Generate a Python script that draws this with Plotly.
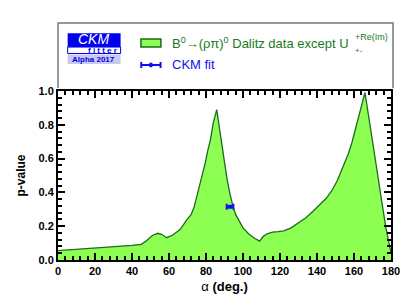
import plotly.graph_objects as go

alpha = [0, 10, 20, 30, 40, 45, 48, 51, 54, 56, 58.7, 62, 66, 69.6, 72, 73.5, 75, 77, 79.5, 81, 82.4,
         83.9, 85.8, 87, 88.5, 90, 91.5, 93, 94.5, 96, 98, 100, 103, 106, 109, 111, 113, 116, 119,
         122, 126, 130, 134, 138, 142, 145, 148, 151, 154, 157, 159, 161.5, 163.5, 165.9, 167.5,
         169.6, 172.3, 175, 177.3, 179.5, 180]
pvalue = [0.055, 0.062, 0.069, 0.077, 0.087, 0.093, 0.115, 0.145, 0.158, 0.152, 0.132, 0.148, 0.18,
          0.237, 0.27, 0.31, 0.375, 0.45, 0.57, 0.65, 0.71, 0.81, 0.89, 0.80, 0.68, 0.56, 0.47,
          0.39, 0.32, 0.27, 0.225, 0.19, 0.155, 0.13, 0.112, 0.14, 0.155, 0.165, 0.168, 0.172,
          0.19, 0.22, 0.25, 0.29, 0.33, 0.365, 0.41, 0.47, 0.55, 0.63, 0.70, 0.80, 0.89, 0.99,
          0.88, 0.74, 0.54, 0.345, 0.187, 0.07, 0.04]

fit_alpha = [93.0]
fit_err = [1.8]
fit_p = [0.315]

xticks = [0, 20, 40, 60, 80, 100, 120, 140, 160, 180]
yticks = [0.0, 0.2, 0.4, 0.6, 0.8, 1.0]
ytick_labels = ["0.0", "0.2", "0.4", "0.6", "0.8", "1.0"]

FONT = "Liberation Sans"
GREEN_FILL = "#8cff52"
GREEN_LINE = "#1d6b1d"
BLUE = "#1010ee"

fig = go.Figure()
fig.add_trace(go.Scatter(x=alpha, y=pvalue, mode="lines", fill="tozeroy",
                         fillcolor=GREEN_FILL, line=dict(color=GREEN_LINE, width=1.3),
                         showlegend=False, hoverinfo="skip"))
fig.add_trace(go.Scatter(x=fit_alpha, y=fit_p, mode="markers",
                         marker=dict(color=BLUE, size=4, symbol="square"),
                         error_x=dict(type="data", array=fit_err, color=BLUE, thickness=2, width=3),
                         showlegend=False))

axis_common = dict(showline=True, linecolor="black", linewidth=2, mirror="allticks",
                   ticks="inside", ticklen=7, tickwidth=1.5, tickcolor="black",
                   showgrid=False, zeroline=False, automargin=False,
                   tickfont=dict(family=FONT, size=11, color="black", weight="bold"))

fig.update_xaxes(range=[0, 180], tickvals=xticks,
                 minor=dict(ticks="inside", ticklen=4, tickwidth=1.5, dtick=4, tick0=0, tickcolor="black"),
                 title=dict(text="α <b>(deg.)</b>", font=dict(family=FONT, size=13, color="black"), standoff=6),
                 **axis_common)
fig.update_yaxes(range=[0, 1], tickvals=yticks, ticktext=ytick_labels,
                 minor=dict(ticks="inside", ticklen=4, tickwidth=1.5, dtick=0.04, tick0=0, tickcolor="black"),
                 title=dict(text="<b>p-value</b>", font=dict(family=FONT, size=12, color="black"), standoff=10),
                 **axis_common)

shapes = []
# legend frame (left, top, right)
shapes.append(dict(type="path", xref="paper", yref="paper",
                   path="M 0,1.018 L 0,1.402 L 1.006,1.402 L 1.006,1.018",
                   line=dict(color="#777777", width=1.5)))
# logo blocks
shapes.append(dict(type="rect", xref="paper", yref="paper", x0=0.029, x1=0.188, y0=1.260, y1=1.341,
                   fillcolor="#0000ee", line=dict(width=0)))
shapes.append(dict(type="rect", xref="paper", yref="paper", x0=0.029, x1=0.188, y0=1.222, y1=1.260,
                   fillcolor="white", line=dict(color="#0000ee", width=1)))
shapes.append(dict(type="rect", xref="paper", yref="paper", x0=0.029, x1=0.188, y0=1.160, y1=1.216,
                   fillcolor="#c8c8f0", line=dict(width=0)))
# legend green box
shapes.append(dict(type="rect", xref="paper", yref="paper", x0=0.249, x1=0.309, y0=1.260, y1=1.308,
                   fillcolor=GREEN_FILL, line=dict(color=GREEN_LINE, width=1.5)))
# legend error-bar symbol
shapes.append(dict(type="line", xref="paper", yref="paper", x0=0.249, x1=0.309, y0=1.154, y1=1.154,
                   line=dict(color=BLUE, width=2)))
shapes.append(dict(type="line", xref="paper", yref="paper", x0=0.250, x1=0.250, y0=1.136, y1=1.172,
                   line=dict(color=BLUE, width=2)))
shapes.append(dict(type="line", xref="paper", yref="paper", x0=0.308, x1=0.308, y0=1.136, y1=1.172,
                   line=dict(color=BLUE, width=2)))
shapes.append(dict(type="circle", xref="paper", yref="paper", x0=0.274, x1=0.284, y0=1.142, y1=1.166,
                   fillcolor=BLUE, line=dict(color=BLUE, width=1)))

annotations = [
    dict(text="<i>CKM</i>", xref="paper", yref="paper", x=0.108, y=1.308, xanchor="center", yanchor="middle",
         showarrow=False, font=dict(family=FONT, size=14, color="white")),
    dict(text="f i t t e r", xref="paper", yref="paper", x=0.184, y=1.239, xanchor="right", yanchor="middle",
         showarrow=False, font=dict(family=FONT, size=8, color="#0000ee", weight="bold")),
    dict(text="Alpha 2017", xref="paper", yref="paper", x=0.108, y=1.186, xanchor="center", yanchor="middle",
         showarrow=False, font=dict(family=FONT, size=8, color="#0000ee", weight="bold")),
    dict(text="B<sup>0</sup>→(ρπ)<sup>0</sup> Dalitz data except U", xref="paper", yref="paper",
         x=0.336, y=1.284, xanchor="left", yanchor="middle", showarrow=False,
         font=dict(family=FONT, size=13, color="#1a7a1a")),
    dict(text="+Re(Im)", xref="paper", yref="paper", x=0.886, y=1.322, xanchor="left", yanchor="middle",
         showarrow=False, font=dict(family=FONT, size=9, color="#1a7a1a")),
    dict(text="+-", xref="paper", yref="paper", x=0.886, y=1.238, xanchor="left", yanchor="middle",
         showarrow=False, font=dict(family=FONT, size=8, color="#1a7a1a")),
    dict(text="CKM fit", xref="paper", yref="paper", x=0.336, y=1.154, xanchor="left", yanchor="middle",
         showarrow=False, font=dict(family=FONT, size=13, color=BLUE)),
]

# page body has an 8px default margin, so margins are shifted to compensate
fig.update_layout(width=414, height=303, margin=dict(l=50, r=31, t=83, b=51),
                  paper_bgcolor="white", plot_bgcolor="white", showlegend=False,
                  shapes=shapes, annotations=annotations,
                  font=dict(family=FONT))

fig.write_html("out.html")
